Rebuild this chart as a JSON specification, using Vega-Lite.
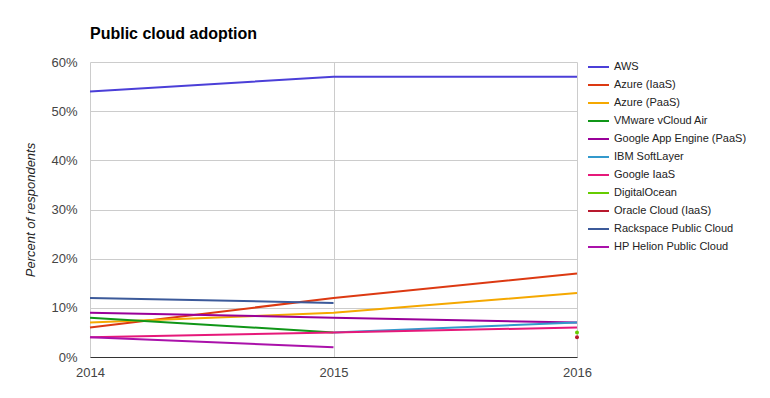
{
  "$schema": "https://vega.github.io/schema/vega-lite/v6.json",
  "autosize": {"type": "none"},
  "width": 487,
  "height": 295,
  "padding": {"left": 90, "top": 62, "right": 193, "bottom": 41},
  "background": "white",
  "config": {
    "font": "Liberation Sans",
    "view": {"stroke": null}
  },
  "title": {
    "text": "Public cloud adoption",
    "anchor": "start",
    "frame": "group",
    "fontSize": 16,
    "fontWeight": "bold",
    "color": "#000000",
    "offset": 14
  },
  "data": {
    "values": [
      {"series": "AWS", "year": "2014", "pct": 54},
      {"series": "AWS", "year": "2015", "pct": 57},
      {"series": "AWS", "year": "2016", "pct": 57},
      {"series": "Azure (IaaS)", "year": "2014", "pct": 6},
      {"series": "Azure (IaaS)", "year": "2015", "pct": 12},
      {"series": "Azure (IaaS)", "year": "2016", "pct": 17},
      {"series": "Azure (PaaS)", "year": "2014", "pct": 7},
      {"series": "Azure (PaaS)", "year": "2015", "pct": 9},
      {"series": "Azure (PaaS)", "year": "2016", "pct": 13},
      {"series": "VMware vCloud Air", "year": "2014", "pct": 8},
      {"series": "VMware vCloud Air", "year": "2015", "pct": 5},
      {"series": "Google App Engine (PaaS)", "year": "2014", "pct": 9},
      {"series": "Google App Engine (PaaS)", "year": "2015", "pct": 8},
      {"series": "Google App Engine (PaaS)", "year": "2016", "pct": 7},
      {"series": "IBM SoftLayer", "year": "2015", "pct": 5},
      {"series": "IBM SoftLayer", "year": "2016", "pct": 7},
      {"series": "Google IaaS", "year": "2014", "pct": 4},
      {"series": "Google IaaS", "year": "2015", "pct": 5},
      {"series": "Google IaaS", "year": "2016", "pct": 6},
      {"series": "DigitalOcean", "year": "2016", "pct": 5},
      {"series": "Oracle Cloud (IaaS)", "year": "2016", "pct": 4},
      {"series": "Rackspace Public Cloud", "year": "2014", "pct": 12},
      {"series": "Rackspace Public Cloud", "year": "2015", "pct": 11},
      {"series": "HP Helion Public Cloud", "year": "2014", "pct": 4},
      {"series": "HP Helion Public Cloud", "year": "2015", "pct": 2}
    ]
  },
  "encoding": {
    "x": {
      "field": "year",
      "type": "ordinal",
      "sort": ["2014", "2015", "2016"],
      "scale": {"type": "point", "padding": 0, "domain": ["2014", "2015", "2016"]},
      "axis": {
        "title": null,
        "labelAngle": 0,
        "grid": true,
        "gridColor": "#cccccc",
        "domainColor": "#333333",
        "ticks": false,
        "labelOverlap": false,
        "labelFontSize": 13,
        "labelColor": "#444444",
        "labelPadding": 9,
        "labelFlush": false
      }
    },
    "y": {
      "field": "pct",
      "type": "quantitative",
      "scale": {"domain": [0, 60], "nice": false},
      "axis": {
        "title": "Percent of respondents",
        "titleFontStyle": "italic",
        "titleFontWeight": "normal",
        "titleFontSize": 13,
        "titleColor": "#222222",
        "titlePadding": 13,
        "values": [0, 10, 20, 30, 40, 50, 60],
        "labelExpr": "datum.value + '%'",
        "labelOverlap": false,
        "grid": true,
        "gridColor": "#cccccc",
        "domain": false,
        "ticks": false,
        "labelFontSize": 13,
        "labelColor": "#444444",
        "labelPadding": 13
      }
    },
    "color": {
      "field": "series",
      "type": "nominal",
      "scale": {
        "domain": ["AWS", "Azure (IaaS)", "Azure (PaaS)", "VMware vCloud Air", "Google App Engine (PaaS)", "IBM SoftLayer", "Google IaaS", "DigitalOcean", "Oracle Cloud (IaaS)", "Rackspace Public Cloud", "HP Helion Public Cloud"],
        "range": ["#4b3fd8", "#dc3912", "#f5a800", "#109618", "#990099", "#3399cc", "#e6197a", "#66cc00", "#b8192e", "#3c5a9a", "#aa11aa"]
      },
      "legend": {
        "title": null,
        "orient": "none",
        "legendX": 497,
        "legendY": -4,
        "symbolType": "stroke",
        "symbolSize": 441,
        "symbolStrokeWidth": 2,
        "labelFontSize": 11,
        "labelColor": "#222222",
        "labelOffset": 4,
        "clipHeight": 18,
        "rowPadding": 0,
        "labelLimit": 200
      }
    }
  },
  "layer": [
    {
      "mark": {"type": "line", "strokeWidth": 2}
    },
    {
      "transform": [{"filter": "datum.series === 'DigitalOcean' || datum.series === 'Oracle Cloud (IaaS)'"}],
      "mark": {"type": "circle", "size": 16, "opacity": 1}
    }
  ]
}
